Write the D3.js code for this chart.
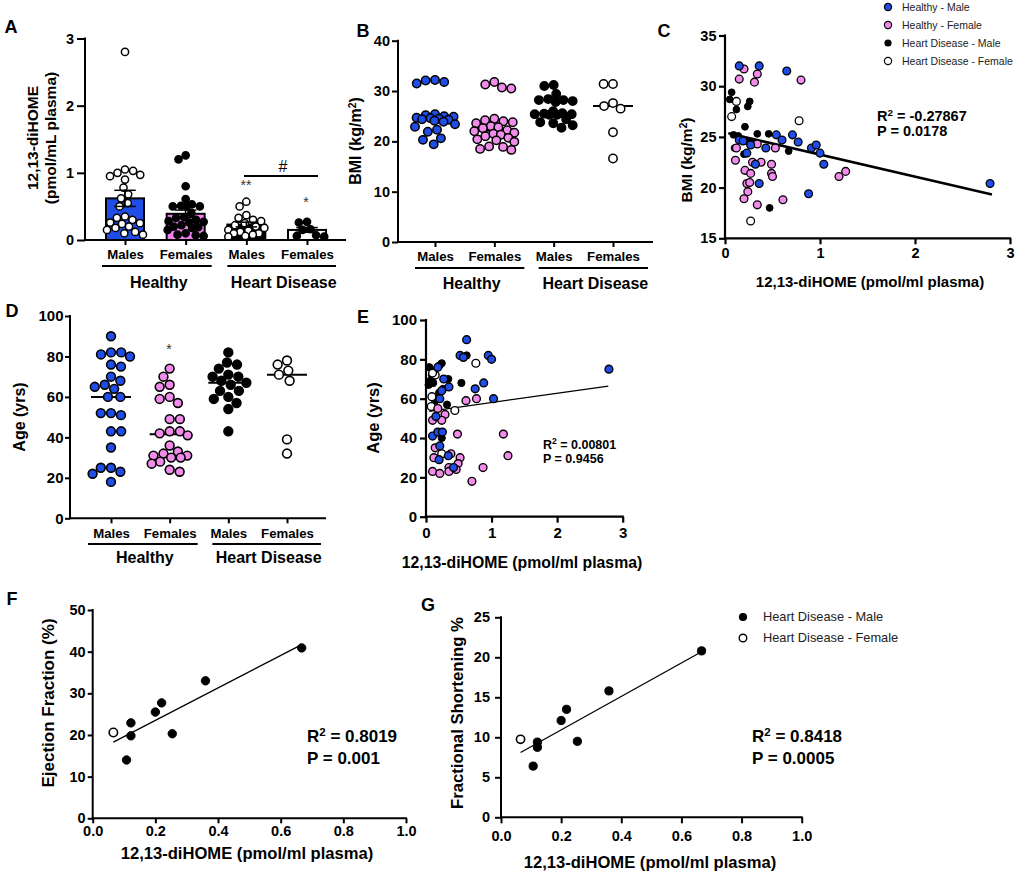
<!DOCTYPE html>
<html><head><meta charset="utf-8">
<script src="https://cdn.jsdelivr.net/npm/d3@7"></script>
<style>
body{margin:0;background:#fff;}
svg{display:block;}
</style></head><body>
<svg id="chart" width="1017" height="876"></svg>
<script>
// ---------------- DATA ----------------
const groupKeys = ["HM","HF","DM","DF"];
const groupTickLabels = ["Males","Females","Males","Females"];
const groupNames = ["Healthy","Heart Disease"];

// Panel A: 12,13-diHOME (pmol/mL plasma)
const aHealthyMale = [2.8,1.05,1.03,1.0,0.97,0.95,0.9,0.78,0.68,0.62,0.55,0.5,0.35,0.33,0.3,0.26,0.25,0.24,0.2,0.18,0.15,0.12,0.1,0.08];
const aHealthyFemale = [1.26,1.2,0.8,0.61,0.53,0.51,0.5,0.5,0.5,0.4,0.34,0.33,0.3,0.28,0.27,0.26,0.22,0.2,0.19,0.18,0.15,0.1,0.08,0.07,0.06];
const aDiseaseMale = [0.57,0.5,0.37,0.33,0.3,0.28,0.25,0.22,0.2,0.18,0.15,0.14,0.12,0.1,0.1,0.08,0.06,0.05];
const aDiseaseFemale = [0.27,0.26,0.16,0.15,0.07,0.06,0.05];
const aMeans = [0.62,0.39,0.23,0.15];
const aSem = [0.12,0.055,0.035,0.035];

// Panel B: BMI
const bHealthyMale = [32.2,32.1,31.8,31.5,25.4,25.2,25.0,24.9,24.7,24.6,24.5,24.4,24.3,24.1,23.9,23.4,22.9,22.3,21.9,20.6,20.3,19.4];
const bHealthyFemale = [31.8,31.3,30.7,30.5,24.5,24.2,24.0,23.8,23.6,23.0,22.8,22.6,22.2,22.0,21.7,21.5,21.3,21.0,20.7,20.4,20.2,19.9,19.0,18.9,18.5,18.3];
const bDiseaseMale = [31.2,31.0,29.4,28.4,28.2,28.0,28.2,27.8,26.0,25.6,25.4,25.3,25.3,25.4,25.5,24.4,23.8,23.6,23.2,22.7];
const bDiseaseFemale = [31.4,31.4,27.6,27.0,26.5,21.8,16.6];

// Panel C: BMI vs 12,13-diHOME  [x, y]
const cHealthyMale = [[0.15,32.0],[0.36,32.0],[0.65,31.5],[0.15,24.7],[0.19,24.6],[0.23,23.4],[0.27,24.2],[0.32,22.3],[0.36,20.4],[0.43,23.9],[0.54,25.2],[0.6,24.7],[0.71,25.2],[0.77,24.5],[0.88,19.4],[0.91,23.9],[0.96,24.2],[1.0,23.4],[1.04,22.3],[2.79,20.4]];
const cHealthyFemale = [[0.2,31.7],[0.15,30.7],[0.34,31.2],[0.31,30.4],[0.8,30.6],[0.12,23.9],[0.11,22.7],[0.34,24.3],[0.53,23.9],[0.29,22.5],[0.38,22.5],[0.49,22.3],[0.21,21.7],[0.27,21.4],[0.49,21.4],[0.5,21.1],[0.23,20.4],[0.26,20.5],[0.24,19.6],[0.2,18.9],[0.34,18.3],[0.61,18.8],[1.2,21.1],[1.27,21.6]];
const cDiseaseMale = [[0.07,29.4],[0.05,28.7],[0.12,27.7],[0.26,28.5],[0.24,28.0],[0.21,26.0],[0.09,25.2],[0.14,25.1],[0.34,25.3],[0.46,25.3],[0.67,23.6],[0.47,18.0],[0.2,23.3],[0.28,24.5],[0.1,23.9],[0.22,24.6]];
const cDiseaseFemale = [[0.12,28.5],[0.07,27.0],[0.78,26.6],[0.27,16.7]];
const cFit = [[0.035,25.35],[2.81,19.33]];
const cStats = ["-0.27867","0.0178"];

// Panel D: Age
const dHealthyMale = [90,82,82,81,80,76,75,70,68,66,65,64,60,60,52,52,51,43,43,35,25,25,23,22,18];
const dHealthyFemale = [74,70,66,65,60,59,57,49,49,43,43,42,41,36,33,32,31,31,30,30,28,27,24,23];
const dDiseaseMale = [82,77,76,74,71,70,70,68,67,66,63,63,60,59,57,54,43];
const dDiseaseFemale = [78,76,73,71,68,39,32];

// Panel E: Age vs 12,13-diHOME
const eHealthyMale = [[0.62,90],[0.52,82],[0.57,81],[0.95,82],[1.0,80],[2.79,75],[0.18,76],[0.88,68],[0.75,65],[1.03,60],[0.27,70],[0.35,66],[0.24,64],[0.21,60],[0.15,51],[0.1,41],[0.18,43],[0.25,43],[0.21,36],[0.34,31],[0.2,29],[0.42,25]];
const eHealthyFemale = [[0.61,59],[0.77,60],[0.18,55],[0.29,52],[0.1,49],[0.24,49],[0.48,42],[1.18,42],[1.25,31],[0.14,35],[0.12,30],[0.52,30],[0.49,27],[0.87,25],[0.35,25],[0.46,24],[0.1,23],[0.21,22],[0.35,23],[0.7,18],[0.38,32]];
const eDiseaseMale = [[0.05,76],[0.21,77],[0.24,78],[0.09,72],[0.06,69],[0.11,68],[0.34,70],[0.54,68],[0.62,82],[0.32,57],[0.14,59],[0.24,40],[0.26,65],[0.2,63],[0.12,74],[0.04,67]];
const eDiseaseFemale = [[0.76,78],[0.44,54],[0.09,61],[0.08,56],[0.14,72],[0.1,73],[0.24,32]];
const eFit = [[0.05,53.6],[2.78,66.4]];
const eStats = ["0.00801","0.9456"];

// Panel F: Ejection fraction
const fDiseaseMale = [[0.108,14.0],[0.122,22.9],[0.122,19.8],[0.2,25.5],[0.22,27.7],[0.254,20.3],[0.36,33.0],[0.667,40.9]];
const fDiseaseFemale = [[0.066,20.6]];
const fFit = [[0.066,18.3],[0.667,41.7]];
const fStats = ["0.8019","0.001"];

// Panel G: Fractional shortening
const gDiseaseMale = [[0.107,6.4],[0.121,9.4],[0.121,8.75],[0.2,12.1],[0.218,13.5],[0.254,9.5],[0.359,15.8],[0.667,20.8]];
const gDiseaseFemale = [[0.065,9.75]];
const gFit = [[0.065,8.1],[0.667,20.7]];
const gStats = ["0.8418","0.0005"];

const legendC = ["Healthy - Male","Healthy - Female","Heart Disease - Male","Heart Disease - Female"];
const legendG = ["Heart Disease - Male","Heart Disease - Female"];

// ---------------- DRAW ----------------
const BLUE = "#1f4de6", PINK = "#f28cea", PINKBAR = "#f47ff0";
const FONT = 'Arial, "Liberation Sans", Helvetica, sans-serif';
const svg = d3.select("#chart").attr("font-family", FONT);

function styleAxis(g, fs, sw){
  g.selectAll("path.domain").remove();
  g.selectAll(".tick line").attr("stroke","#000").attr("stroke-width",sw);
  g.selectAll(".tick text").attr("fill","#000").attr("font-size",fs).attr("font-weight","bold").attr("font-family",FONT);
}
function line(x1,y1,x2,y2,sw){
  svg.append("line").attr("x1",x1).attr("y1",y1).attr("x2",x2).attr("y2",y2)
    .attr("stroke","#000").attr("stroke-width",sw).attr("stroke-linecap","square");
}
function label(txt,x,y,fs,opts={}){
  const t = svg.append("text").attr("x",x).attr("y",y).attr("dy","0.35em")
    .attr("font-size",fs).attr("font-weight",opts.weight||"bold")
    .attr("text-anchor",opts.anchor||"middle").attr("fill",opts.fill||"#000").text(txt);
  if(opts.rotate) t.attr("transform",`rotate(-90,${x},${y})`);
  return t;
}
function panelLetter(t,x,y){ label(t,x,y,18); }

// beeswarm-like dodge, limited to a maximum half width
function dodge(values, y, cx, D, maxW){
  const pts = values.map(v=>({v, y:y(v)})).sort((a,b)=>b.v-a.v);
  const placed = [];
  pts.forEach((p,k)=>{
    const iv = [];
    placed.forEach(q=>{
      const dy = Math.abs(q.y-p.y);
      if(dy < D){ const w = Math.sqrt(D*D-dy*dy); iv.push([q.x-w,q.x+w]); }
    });
    const cands = [cx]; iv.forEach(([a,b])=>cands.push(a,b));
    let best = null, bd = Infinity;
    cands.forEach(c=>{
      if(Math.abs(c-cx) > maxW+1e-6) return;
      if(iv.some(([a,b])=>c>a+1e-6 && c<b-1e-6)) return;
      const d = Math.abs(c-cx);
      if(d < bd-1e-6){ bd=d; best=c; }
      else if(Math.abs(d-bd)<1e-6 && ((k%2===0 && c>best)||(k%2===1 && c<best))) best=c;
    });
    if(best===null){
      let bestScore = -Infinity;
      for(let o=-maxW; o<=maxW+1e-6; o+=0.5){
        const c = cx+o;
        let m = Infinity;
        placed.forEach(q=>{ m = Math.min(m, Math.hypot(q.x-c, q.y-p.y)); });
        const score = m - Math.abs(o)*0.01;
        if(score > bestScore){ bestScore = score; best = c; }
      }
    }
    p.x = best; placed.push(p);
  });
  return placed;
}

function columnPanel(cfg){
  const x = d3.scalePoint().domain(groupKeys).range(cfg.catRange);
  const y = d3.scaleLinear().domain(cfg.yDomain).range(cfg.yRange);
  const base = cfg.yRange[0];
  if(cfg.means){
    cfg.means.forEach((m,i)=>{
      const cx = x(groupKeys[i]);
      svg.append("rect").attr("x",cx-cfg.barW/2).attr("y",y(m)).attr("width",cfg.barW)
        .attr("height",base-y(m)).attr("fill",cfg.barFill[i]).attr("stroke","#000").attr("stroke-width",2);
    });
  }
  if(cfg.median){
    cfg.groups.forEach((g,i)=>{
      const cx = x(groupKeys[i]); const m = d3.median(g.values);
      line(cx-cfg.medW, y(m), cx+cfg.medW, y(m), 2);
    });
  }
  cfg.groups.forEach((g,i)=>{
    const cx = x(groupKeys[i]);
    const pts = dodge(g.values, y, cx, cfg.D, cfg.maxW[i]);
    svg.append("g").selectAll("circle").data(pts).join("circle")
      .attr("cx",d=>d.x).attr("cy",d=>d.y).attr("r",cfg.r)
      .attr("fill",g.fill).attr("stroke","#000").attr("stroke-width",cfg.sw);
  });
  if(cfg.means){
    cfg.means.forEach((m,i)=>{
      const cx = x(groupKeys[i]);
      const lo = y(m-cfg.sem[i]), hi = y(m+cfg.sem[i]);
      line(cx,lo,cx,hi,1.5);
      line(cx-cfg.capW,hi,cx+cfg.capW,hi,1.5);
      line(cx-cfg.capW,lo,cx+cfg.capW,lo,1.5);
    });
  }
  const gx = svg.append("g").attr("transform",`translate(0,${base})`)
    .call(d3.axisBottom(x).tickSize(5).tickPadding(5).tickSizeOuter(0).tickFormat((d,i)=>groupTickLabels[i]));
  styleAxis(gx, cfg.catFont, 2);
  line(cfg.axisX, base, cfg.axisEnd, base, 2);
  const gy = svg.append("g").attr("transform",`translate(${cfg.axisX},0)`)
    .call(d3.axisLeft(y).tickValues(cfg.yTicks).tickFormat(d3.format("d")).tickSize(cfg.yTick).tickPadding(cfg.yPad).tickSizeOuter(0));
  styleAxis(gy, cfg.tickFont, 2);
  line(cfg.axisX, y(cfg.yDomain[0]), cfg.axisX, y(cfg.yDomain[1]), 2);
  groupNames.forEach((nm,gi)=>{
    const x1 = x(groupKeys[2*gi]) + cfg.ulL[gi], x2 = x(groupKeys[2*gi+1]) + cfg.ulR[gi];
    line(x1, cfg.ulY, x2, cfg.ulY, 2);
    label(nm, (x1+x2)/2 + 2, cfg.glY, 16);
  });
}

function supText(prefix, sup, rest, x, y, fs){
  const t = svg.append("text").attr("x",x).attr("y",y).attr("dy","0.35em")
    .attr("font-size",fs).attr("font-weight","bold").attr("fill","#000");
  t.append("tspan").text(prefix);
  t.append("tspan").attr("baseline-shift","super").attr("font-size","68%").text(sup);
  t.append("tspan").text(rest);
  return t;
}

function scatterPanel(cfg){
  const x = d3.scaleLinear().domain(cfg.xDomain).range(cfg.xRange);
  const y = d3.scaleLinear().domain(cfg.yDomain).range(cfg.yRange);
  svg.append("path").attr("d", d3.line().x(d=>x(d[0])).y(d=>y(d[1]))(cfg.fit))
    .attr("stroke","#000").attr("stroke-width",cfg.fitW).attr("fill","none");
  cfg.series.forEach(s=>{
    svg.append("g").selectAll("circle").data(s.data).join("circle")
      .attr("cx",d=>x(d[0])).attr("cy",d=>y(d[1])).attr("r",s.r)
      .attr("fill",s.fill).attr("stroke","#000").attr("stroke-width",s.sw);
  });
  const base = cfg.yRange[0];
  const gx = svg.append("g").attr("transform",`translate(0,${base})`)
    .call(d3.axisBottom(x).tickValues(cfg.xTicks).tickFormat(d3.format(cfg.xFmt)).tickSize(cfg.xTick).tickPadding(cfg.xPad).tickSizeOuter(0));
  styleAxis(gx, cfg.tickFont, cfg.aw);
  line(cfg.xRange[0], base, cfg.xRange[1], base, cfg.aw);
  const gy = svg.append("g").attr("transform",`translate(${cfg.xRange[0]},0)`)
    .call(d3.axisLeft(y).tickValues(cfg.yTicks).tickFormat(d3.format("d")).tickSize(cfg.yTick).tickPadding(cfg.yPad).tickSizeOuter(0));
  styleAxis(gy, cfg.tickFont, cfg.aw);
  line(cfg.xRange[0], cfg.yRange[0], cfg.xRange[0], cfg.yRange[1], cfg.aw);
  label("12,13-diHOME (pmol/ml plasma)", cfg.xTitle[0], cfg.xTitle[1], cfg.titleFont);
  supText("R","2"," = "+cfg.stats[0], cfg.statsX, cfg.statsY[0], cfg.statsFont);
  label("P = "+cfg.stats[1], cfg.statsX, cfg.statsY[1], cfg.statsFont, {anchor:"start"});
}

// ---- Panel A ----
columnPanel({
  catRange:[125,307], axisX:85, axisEnd:345, yDomain:[0,3], yRange:[240,38.5], yTicks:[0,1,2,3],
  yTick:8, yPad:3, tickFont:14.5, catFont:13.2,
  groups:[{values:aHealthyMale,fill:"#fff"},{values:aHealthyFemale,fill:"#000"},{values:aDiseaseMale,fill:"#fff"},{values:aDiseaseFemale,fill:"#000"}],
  r:3.6, sw:1.5, D:8.2, maxW:[18,18,18,18],
  means:aMeans, sem:aSem, barW:38, barFill:[BLUE,PINKBAR,"#000","#fff"], capW:10,
  ulY:266, ulL:[-22,-18], ulR:[25,28], glY:282
});
label("12,13-diHOME", 32.5, 138, 15.5, {rotate:true});
label("(pmol/mL plasma)", 50.5, 138, 15.5, {rotate:true});
label("**", 246, 185, 14, {weight:"normal", fill:"#333"});
label("*", 306, 202, 14, {weight:"normal", fill:"#333"});
line(245,176,317,176,2);
label("#", 283, 166, 16, {weight:"normal"});
panelLetter("A", 11, 27);

// ---- Panel B ----
columnPanel({
  catRange:[435,613], axisX:398, axisEnd:652, yDomain:[0,40], yRange:[242,40.7], yTicks:[0,10,20,30,40],
  yTick:6, yPad:2, tickFont:14.5, catFont:13.2,
  groups:[{values:bHealthyMale,fill:BLUE},{values:bHealthyFemale,fill:PINK},{values:bDiseaseMale,fill:"#000"},{values:bDiseaseFemale,fill:"#fff"}],
  r:4.2, sw:1.5, D:9.4, maxW:[20,20,19,19], median:true, medW:19,
  ulY:268, ulL:[-19,-14], ulR:[29,34], glY:283
});
(function(){
  const t = svg.append("text").attr("transform","translate(355,141) rotate(-90)").attr("dy","0.35em")
    .attr("text-anchor","middle").attr("font-size",16).attr("font-weight","bold");
  t.append("tspan").text("BMI (kg/m");
  t.append("tspan").attr("baseline-shift","super").attr("font-size","65%").text("2");
  t.append("tspan").text(")");
})();
panelLetter("B", 363, 31);

// ---- Panel C ----
scatterPanel({
  xDomain:[0,3], xRange:[725,1010], yDomain:[15,35], yRange:[238.3,35.5],
  xTicks:[0,1,2,3], xFmt:"d", yTicks:[15,20,25,30,35], xTick:6, xPad:3, yTick:6, yPad:2.5, tickFont:14.5, aw:2.2,
  fit:cFit, fitW:2.6,
  series:[
    {data:cDiseaseFemale, fill:"#fff", r:3.9, sw:1.3},
    {data:cDiseaseMale, fill:"#000", r:3.4, sw:1},
    {data:cHealthyFemale, fill:PINK, r:3.9, sw:1.3},
    {data:cHealthyMale, fill:BLUE, r:3.9, sw:1.3}
  ],
  xTitle:[870,282], titleFont:15,
  stats:cStats, statsX:877, statsY:[116,131], statsFont:14.5
});
(function(){
  const t = svg.append("text").attr("transform","translate(687,160) rotate(-90)").attr("dy","0.35em")
    .attr("text-anchor","middle").attr("font-size",15.5).attr("font-weight","bold");
  t.append("tspan").text("BMI (kg/m");
  t.append("tspan").attr("baseline-shift","super").attr("font-size","65%").text("2");
  t.append("tspan").text(")");
})();
panelLetter("C", 664, 31);
const legFills = [BLUE, PINK, "#000", "#fff"];
legendC.forEach((nm,i)=>{
  const yy = 7 + i*18;
  svg.append("circle").attr("cx",888).attr("cy",yy).attr("r",i===2?3:3.6)
    .attr("fill",legFills[i]).attr("stroke","#000").attr("stroke-width",1.2);
  label(nm, 902, yy, 10.5, {anchor:"start", weight:"normal", fill:"#222"});
});

// ---- Panel D ----
columnPanel({
  catRange:[111,287], axisX:70, axisEnd:325, yDomain:[0,100], yRange:[518.3,316], yTicks:[0,20,40,60,80,100],
  yTick:5, yPad:1.5, tickFont:15, catFont:13.2,
  groups:[{values:dHealthyMale,fill:BLUE},{values:dHealthyFemale,fill:PINK},{values:dDiseaseMale,fill:"#000"},{values:dDiseaseFemale,fill:"#fff"}],
  r:4.4, sw:1.6, D:10.2, maxW:[19,18,18,18], median:true, medW:19,
  ulY:544, ulL:[-22,-15], ulR:[27,33], glY:557
});
label("Age (yrs)", 19, 417, 16, {rotate:true});
label("*", 169, 349, 14, {weight:"normal", fill:"#333"});
panelLetter("D", 12, 311);

// ---- Panel E ----
scatterPanel({
  xDomain:[0,3], xRange:[426,622.7], yDomain:[0,100], yRange:[516.7,320],
  xTicks:[0,1,2,3], xFmt:"d", yTicks:[0,20,40,60,80,100], xTick:6, xPad:5, yTick:6, yPad:3, tickFont:15, aw:2.2,
  fit:eFit, fitW:1.3,
  series:[
    {data:eDiseaseMale, fill:"#000", r:3.6, sw:1},
    {data:eDiseaseFemale, fill:"#fff", r:3.9, sw:1.4},
    {data:eHealthyFemale, fill:PINK, r:3.9, sw:1.4},
    {data:eHealthyMale, fill:BLUE, r:3.9, sw:1.4}
  ],
  xTitle:[522,562], titleFont:15.8,
  stats:eStats, statsX:543, statsY:[445,459], statsFont:12.5
});
label("Age (yrs)", 373, 418, 16.5, {rotate:true});
panelLetter("E", 363, 317);

// ---- Panel F ----
scatterPanel({
  xDomain:[0,1], xRange:[92.7,406], yDomain:[0,50], yRange:[818.3,610],
  xTicks:[0,0.2,0.4,0.6,0.8,1.0], xFmt:".1f", yTicks:[0,10,20,30,40,50], xTick:5, xPad:2.5, yTick:5, yPad:2, tickFont:14.5, aw:2,
  fit:fFit, fitW:1.3,
  series:[
    {data:fDiseaseMale, fill:"#000", r:4.2, sw:1},
    {data:fDiseaseFemale, fill:"#fff", r:4.2, sw:1.6}
  ],
  xTitle:[247,853], titleFont:16.6,
  stats:fStats, statsX:307, statsY:[736,758], statsFont:17
});
label("Ejection Fraction (%)", 48, 703, 17, {rotate:true});
panelLetter("F", 12, 599);

// ---- Panel G ----
scatterPanel({
  xDomain:[0,1], xRange:[501,801.7], yDomain:[0,25], yRange:[817.3,617.3],
  xTicks:[0,0.2,0.4,0.6,0.8,1.0], xFmt:".1f", yTicks:[0,5,10,15,20,25], xTick:6, xPad:7, yTick:6, yPad:5, tickFont:14.5, aw:2,
  fit:gFit, fitW:1.3,
  series:[
    {data:gDiseaseMale, fill:"#000", r:4.1, sw:1},
    {data:gDiseaseFemale, fill:"#fff", r:4.1, sw:1.6}
  ],
  xTitle:[650,862], titleFont:16.6,
  stats:gStats, statsX:752, statsY:[736,758], statsFont:17
});
label("Fractional Shortening %", 457, 713, 16.7, {rotate:true});
panelLetter("G", 428, 605);
legendG.forEach((nm,i)=>{
  const yy = 617 + i*21;
  svg.append("circle").attr("cx",743).attr("cy",yy).attr("r",i===0?3.4:3.8)
    .attr("fill",i===0?"#000":"#fff").attr("stroke","#000").attr("stroke-width",1.4);
  label(nm, 763, yy, 12.8, {anchor:"start", weight:"normal", fill:"#222"});
});
</script>
</body></html>
